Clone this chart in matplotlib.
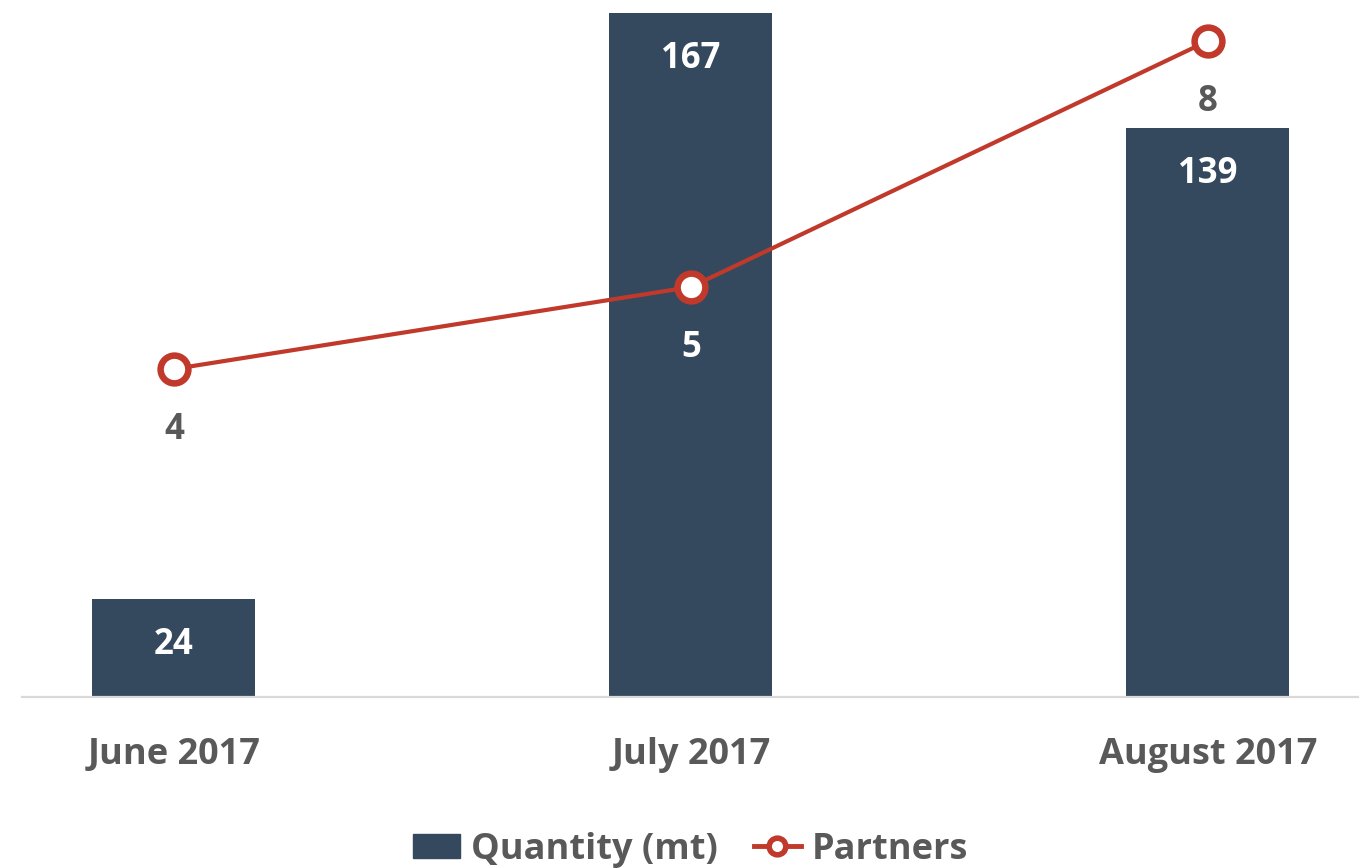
import matplotlib
matplotlib.use("Agg")
import matplotlib.pyplot as plt
from matplotlib.patches import Patch
from matplotlib.lines import Line2D

plt.rcParams['font.family'] = ['Open Sans', 'DejaVu Sans']
plt.rcParams['font.weight'] = 'bold'

months = ['June 2017', 'July 2017', 'August 2017']
quantity = [24, 167, 139]
partners = [4, 5, 8]

BAR = '#34495e'
RED = '#c0392b'
GREY = '#595959'

fig = plt.figure(figsize=(13.7, 8.68), dpi=100)
ax = fig.add_axes([0.016, 0.197, 0.975, 0.803])
x = list(range(len(months)))

ax.bar(x, quantity, width=0.315, color=BAR, zorder=2)
ax.set_xlim(-0.294, 2.29)
ax.set_ylim(0, 170.2)
ax.set_xticks(x)
ax.set_xticklabels(months, fontsize=26, color=GREY, fontweight='bold')
ax.tick_params(axis='x', length=0, pad=29)
ax.set_yticks([])
for s in ['top', 'left', 'right']:
    ax.spines[s].set_visible(False)
ax.spines['bottom'].set_color('#d9d9d9')
ax.spines['bottom'].set_linewidth(1.6)

for xi, q in zip(x, quantity):
    ax.annotate(str(q), (xi, q), xytext=(0, -33), textcoords='offset points',
                ha='center', va='center', color='white', fontsize=25, fontweight='bold')

ax2 = ax.twinx()
ax2.set_ylim(0, 8.5)
ax2.axis('off')
ax2.plot(x, partners, color=RED, lw=3, marker='o', ms=20, mew=4.7,
         mfc='white', mec=RED, zorder=3)
label_colors = [GREY, 'white', GREY]
for xi, p, c in zip(x, partners, label_colors):
    ax2.annotate(str(p), (xi, p), xytext=(0, -44), textcoords='offset points',
                 ha='center', va='center', color=c, fontsize=25, fontweight='bold')

handles = [Patch(color=BAR, label='Quantity (mt)'),
           Line2D([], [], color=RED, lw=3.5, marker='o', ms=12, mew=4,
                  mfc='white', mec=RED, label='Partners')]
leg = fig.legend(handles=handles, loc='center', bbox_to_anchor=(0.504, 0.021),
                 ncol=2, frameon=False, fontsize=26, handlelength=1.3,
                 handleheight=0.65, handletextpad=0.3, columnspacing=1.0)
for t in leg.get_texts():
    t.set_color(GREY)

fig.savefig('out.png', dpi=100)
